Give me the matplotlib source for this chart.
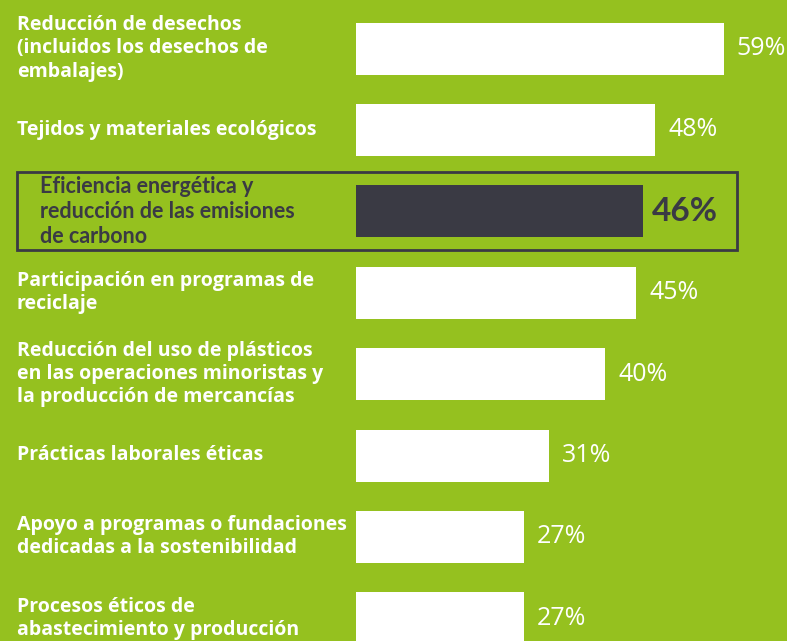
import matplotlib.pyplot as plt
import matplotlib.transforms as mtransforms
from matplotlib.patches import Rectangle

labels = [
    "Reducción de desechos\n(incluidos los desechos de\nembalajes)",
    "Tejidos y materiales ecológicos",
    "Eficiencia energética y\nreducción de las emisiones\nde carbono",
    "Participación en programas de\nreciclaje",
    "Reducción del uso de plásticos\nen las operaciones minoristas y\nla producción de mercancías",
    "Prácticas laborales éticas",
    "Apoyo a programas o fundaciones\ndedicadas a la sostenibilidad",
    "Procesos éticos de\nabastecimiento y producción",
]
values = [59, 48, 46, 45, 40, 31, 27, 27]
highlight = 2

bg = "#95c11f"
dark = "#3a3a44"
W, H = 787, 641
px_per_pct = 6.23
bar_left = 356
pitch = 81.4
first_center = 48.5

plt.rcParams['font.family'] = ['Open Sans', 'DejaVu Sans']
narrow = ['Lato', 'DejaVu Sans']

fig = plt.figure(figsize=(W / 100, H / 100), dpi=100, facecolor=bg)
ax = fig.add_axes([bar_left / W, 0, (W - bar_left) / W, 1])
ax.set_facecolor(bg)
ax.set_xlim(0, (W - bar_left) / px_per_pct)
ax.set_ylim((H - first_center) / pitch, -first_center / pitch)
ax.axis('off')

y = list(range(len(values)))
colors = [dark if i == highlight else "white" for i in y]
ax.barh(y, values, height=52 / pitch, color=colors, align='center')

blend = mtransforms.blended_transform_factory(fig.transFigure, ax.transData)

for i, (lab, v) in enumerate(zip(labels, values)):
    if i == highlight:
        fig.text(40 / W, i, lab, transform=blend, ha='left', va='center',
                 fontsize=15.5, fontweight='bold', color=dark, linespacing=1.25,
                 family=narrow)
        ax.text(v + 9 / px_per_pct, i, f"{v}%", ha='left', va='center',
                fontsize=24, fontweight='bold', color=dark, family=narrow)
    else:
        fig.text(17 / W, i, lab, transform=blend, ha='left', va='center',
                 fontsize=14, fontweight='bold', color='white', linespacing=1.2)
        ax.text(v + 13 / px_per_pct, i, f"{v}%", ha='left', va='center',
                fontsize=18, color='white')

half = 39 / pitch
box = Rectangle((17 / W, highlight - half), (737 - 17) / W, 2 * half,
                transform=blend, fill=False, edgecolor=dark, linewidth=2,
                clip_on=False)
fig.patches.append(box)

fig.savefig("out.png", dpi=100, facecolor=bg)
